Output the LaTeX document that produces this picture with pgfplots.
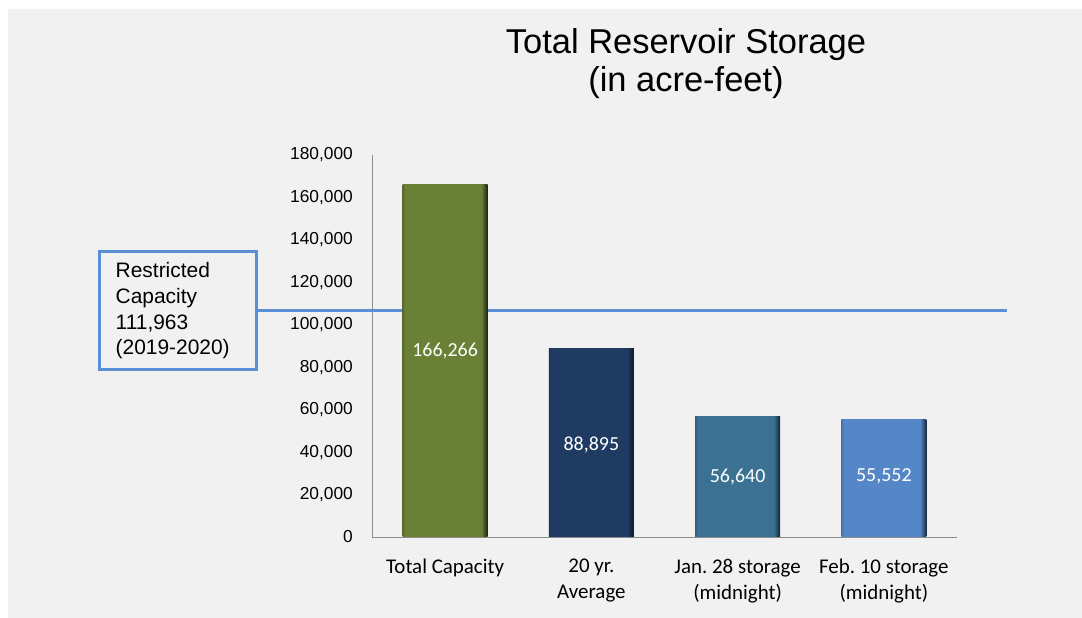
\documentclass[border=0pt]{standalone}
\usepackage{pgfplots}
\pgfplotsset{compat=1.18}
\usepackage{fontspec}
\setmainfont{Liberation Sans}
\newfontfamily\calibri{Carlito}
\frenchspacing
\definecolor{bgc}{HTML}{F1F1F1}
\definecolor{cA}{HTML}{6A8035}
\definecolor{cB}{HTML}{1F3B62}
\definecolor{cC}{HTML}{3B7193}
\definecolor{cD}{HTML}{5587C8}
\definecolor{lineC}{HTML}{5A8FD8}
\definecolor{axisC}{HTML}{8C8C8C}
\pgfdeclarehorizontalshading{shA}{100bp}{color(0bp)=(cA!85!black); color(25bp)=(cA!85!black); color(26.5bp)=(cA); color(71.3bp)=(cA); color(75bp)=(cA!25!black); color(100bp)=(cA!25!black)}
\pgfdeclarehorizontalshading{shB}{100bp}{color(0bp)=(cB!85!black); color(25bp)=(cB!85!black); color(26.5bp)=(cB); color(71.3bp)=(cB); color(75bp)=(cB!40!black); color(100bp)=(cB!40!black)}
\pgfdeclarehorizontalshading{shC}{100bp}{color(0bp)=(cC!85!black); color(25bp)=(cC!85!black); color(26.5bp)=(cC); color(71.3bp)=(cC); color(75bp)=(cC!30!black); color(100bp)=(cC!30!black)}
\pgfdeclarehorizontalshading{shD}{100bp}{color(0bp)=(cD!85!black); color(25bp)=(cD!85!black); color(26.5bp)=(cD); color(71.3bp)=(cD); color(75bp)=(cD!30!black); color(100bp)=(cD!30!black)}
\begin{document}
\begin{tikzpicture}[x=1bp,y=1bp]
\fill[white] (-372,-81) rectangle (710,537);
\fill[bgc] (-364,-81) rectangle (710,528);
\node[font=\fontsize{34.6}{38}\selectfont, align=center] at (314,473) {Total Reservoir Storage\\(in acre-feet)};
\begin{axis}[
  at={(0,0)}, anchor=south west,
  scale only axis, width=585bp, height=382bp,
  xmin=-0.5, xmax=3.5, ymin=0, ymax=180000,
  axis lines*=left,
  axis line style={axisC, line width=0.8bp, -},
  xtick={0,1,2,3},
  xticklabels={Total Capacity, {20 yr.\\Average}, {Jan. 28 storage\\(midnight)}, {Feb. 10 storage\\(midnight)}},
  ytick={0,20000,40000,60000,80000,100000,120000,140000,160000,180000},
  yticklabels={0,{20,000},{40,000},{60,000},{80,000},{100,000},{120,000},{140,000},{160,000},{180,000}},
  major tick length=0pt,
  scaled y ticks=false,
  yticklabel style={font=\fontsize{17.4}{20}\selectfont, inner xsep=0pt, xshift=-19bp},
  xticklabel style={font=\calibri\fontsize{21}{26}\selectfont, align=center, anchor=north, inner sep=0pt, yshift=-22bp},
  clip=false,
]
\addplot[lineC, line width=3bp, mark=none] coordinates {(-1.2795,106630) (3.842,106630)};
\addplot[ybar, bar width=85bp, bar shift=0pt, draw=none, shading=shA] coordinates {(0,166266)};
\addplot[ybar, bar width=85bp, bar shift=0pt, draw=none, shading=shB] coordinates {(1,88895)};
\addplot[ybar, bar width=85bp, bar shift=0pt, draw=none, shading=shC] coordinates {(2,56640)};
\addplot[ybar, bar width=85bp, bar shift=0pt, draw=none, shading=shD] coordinates {(3,55552)};
\addplot[only marks, mark=none, point meta=explicit symbolic, nodes near coords,
  every node near coord/.append style={anchor=center, text=white, font=\calibri\fontsize{20}{24}\selectfont}]
  table[meta=lab] {
x y lab
0 87600 166,266
1 43500 88,895
2 28300 56,640
3 28600 55,552
};
\node[draw=lineC, line width=2.5bp, fill=bgc, text width=125bp, inner xsep=16bp, minimum height=118bp, align=left, anchor=east, font=\fontsize{21}{26}\selectfont] at (axis cs:-1.2795,106630) {Restricted\\Capacity\\111,963\\(2019-2020)};
\end{axis}
\end{tikzpicture}
\end{document}
